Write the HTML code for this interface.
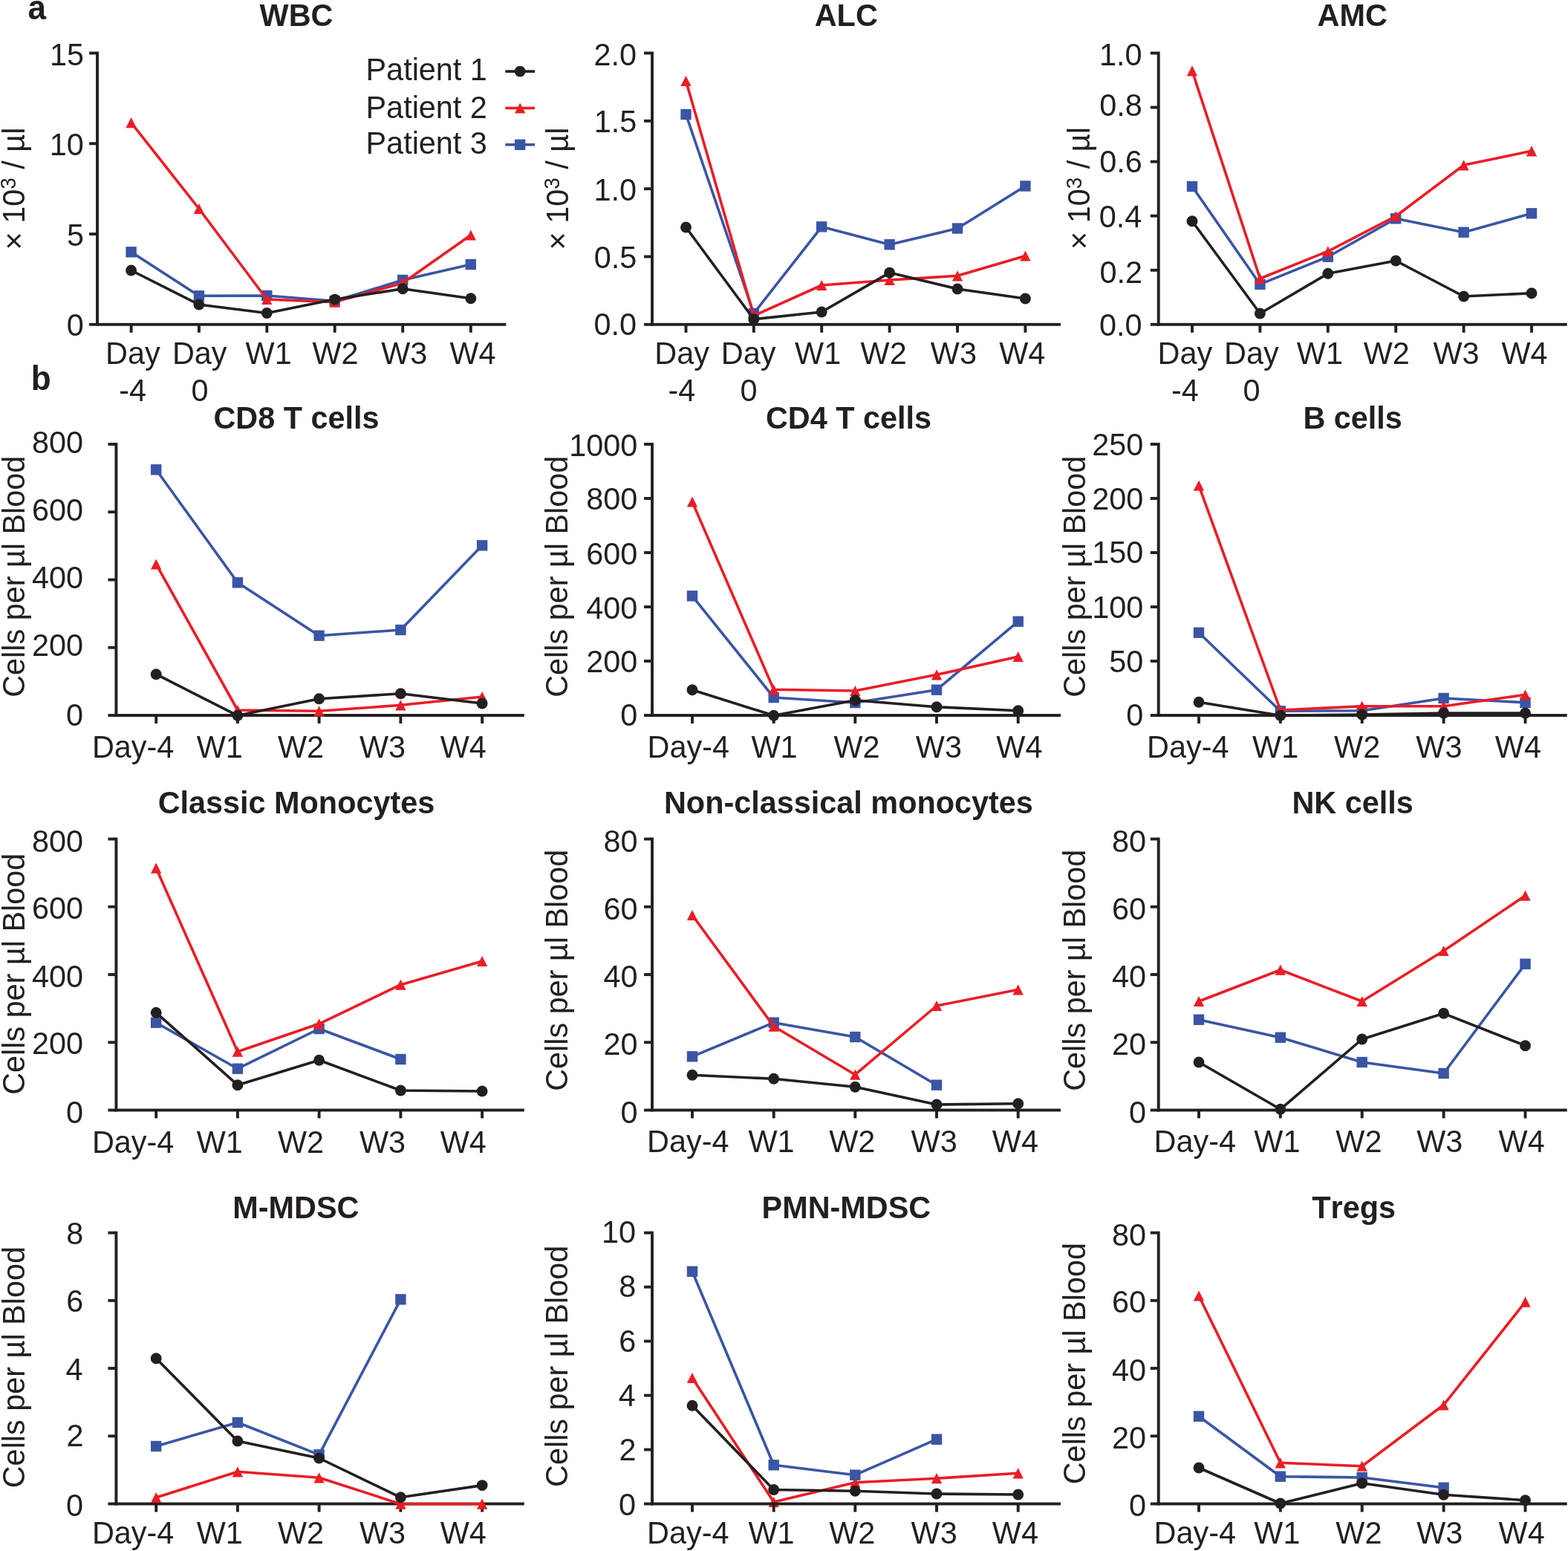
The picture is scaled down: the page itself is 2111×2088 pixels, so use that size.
<!DOCTYPE html>
<html lang="en"><head><meta charset="utf-8"><title>Figure</title>
<style>
html,body{margin:0;padding:0;background:#fff;}
body{width:2111px;height:2088px;overflow:hidden;}
svg{display:block;}
text{font-kerning:none;font-family:"Liberation Sans",Arial,Helvetica,sans-serif;fill:#231f20;white-space:pre;}
</style></head><body>
<svg width="2111" height="2088" viewBox="0 0 2111 2088">
<rect width="2111" height="2088" fill="#fff"/>
<g fill="#231f20">
<rect x="129.05" y="69.55" width="3.9" height="369.20"/>
<rect x="129.05" y="434.85" width="552.25" height="3.9"/>
<rect x="120.05" y="434.85" width="10.00" height="3.9"/>
<rect x="120.05" y="313.08" width="10.00" height="3.9"/>
<rect x="120.05" y="191.32" width="10.00" height="3.9"/>
<rect x="120.05" y="69.55" width="10.00" height="3.9"/>
<rect x="174.65" y="436.80" width="3.9" height="10.95"/>
<rect x="265.95" y="436.80" width="3.9" height="10.95"/>
<rect x="357.35" y="436.80" width="3.9" height="10.95"/>
<rect x="448.75" y="436.80" width="3.9" height="10.95"/>
<rect x="540.25" y="436.80" width="3.9" height="10.95"/>
<rect x="631.85" y="436.80" width="3.9" height="10.95"/>
</g>
<g>
<polyline points="176.60,339.30 267.90,398.30 359.30,398.00 450.70,405.30 542.20,377.00 633.80,356.00" fill="none" stroke="#3a55a5" stroke-width="3.6" stroke-linejoin="round"/>
<rect x="169.40" y="332.10" width="14.4" height="14.4" fill="#3a55a5"/>
<rect x="260.70" y="391.10" width="14.4" height="14.4" fill="#3a55a5"/>
<rect x="352.10" y="390.80" width="14.4" height="14.4" fill="#3a55a5"/>
<rect x="443.50" y="398.10" width="14.4" height="14.4" fill="#3a55a5"/>
<rect x="535.00" y="369.80" width="14.4" height="14.4" fill="#3a55a5"/>
<rect x="626.60" y="348.80" width="14.4" height="14.4" fill="#3a55a5"/>
<polyline points="176.60,165.20 267.90,281.00 359.30,403.00 450.70,406.60 542.20,381.00 633.80,316.50" fill="none" stroke="#ea1d25" stroke-width="3.6" stroke-linejoin="round"/>
<polygon points="176.60,158.10 183.75,172.30 169.45,172.30" fill="#ea1d25"/>
<polygon points="267.90,273.90 275.05,288.10 260.75,288.10" fill="#ea1d25"/>
<polygon points="359.30,395.90 366.45,410.10 352.15,410.10" fill="#ea1d25"/>
<polygon points="450.70,399.50 457.85,413.70 443.55,413.70" fill="#ea1d25"/>
<polygon points="542.20,373.90 549.35,388.10 535.05,388.10" fill="#ea1d25"/>
<polygon points="633.80,309.40 640.95,323.60 626.65,323.60" fill="#ea1d25"/>
<polyline points="176.60,364.00 267.90,410.00 359.30,421.50 450.70,403.10 542.20,388.70 633.80,401.70" fill="none" stroke="#231f20" stroke-width="3.6" stroke-linejoin="round"/>
<circle cx="176.60" cy="364.00" r="7.45" fill="#231f20"/>
<circle cx="267.90" cy="410.00" r="7.45" fill="#231f20"/>
<circle cx="359.30" cy="421.50" r="7.45" fill="#231f20"/>
<circle cx="450.70" cy="403.10" r="7.45" fill="#231f20"/>
<circle cx="542.20" cy="388.70" r="7.45" fill="#231f20"/>
<circle cx="633.80" cy="401.70" r="7.45" fill="#231f20"/>
</g>
<text transform="translate(89.79,451.50) scale(1,1.03)" font-size="41.4">0</text>
<text transform="translate(89.91,330.50) scale(1,1.03)" font-size="41.4">5</text>
<text transform="translate(66.77,209.30) scale(1,1.03)" font-size="41.4">10</text>
<text transform="translate(66.89,87.90) scale(1,1.03)" font-size="41.4">15</text>
<text transform="translate(142.10,490.00) scale(1,1.03)" font-size="41.4">Day</text>
<text transform="translate(160.16,539.50) scale(1,1.03)" font-size="41.4">-4</text>
<text transform="translate(231.90,490.00) scale(1,1.03)" font-size="41.4">Day</text>
<text transform="translate(257.38,539.50) scale(1,1.03)" font-size="41.4">0</text>
<text transform="translate(330.62,490.00) scale(1,1.03)" font-size="41.4">W1</text>
<text transform="translate(420.52,490.00) scale(1,1.03)" font-size="41.4">W2</text>
<text transform="translate(513.22,490.00) scale(1,1.03)" font-size="41.4">W3</text>
<text transform="translate(605.42,490.00) scale(1,1.03)" font-size="41.4">W4</text>
<text transform="translate(349.61,34.70) scale(1,1.03)" font-size="41.4" font-weight="bold">WBC</text>
<text transform="translate(32.90,336.48) rotate(-90) scale(1,1.03)" font-size="41.4">× 10<tspan font-size="28.0" dy="-11.5">3</tspan><tspan dy="11.5"> / µl</tspan></text>
<g fill="#231f20">
<rect x="876.05" y="69.55" width="3.9" height="369.20"/>
<rect x="876.05" y="434.85" width="551.95" height="3.9"/>
<rect x="867.05" y="434.85" width="10.00" height="3.9"/>
<rect x="867.05" y="343.53" width="10.00" height="3.9"/>
<rect x="867.05" y="252.20" width="10.00" height="3.9"/>
<rect x="867.05" y="160.88" width="10.00" height="3.9"/>
<rect x="867.05" y="69.55" width="10.00" height="3.9"/>
<rect x="921.55" y="436.80" width="3.9" height="10.95"/>
<rect x="1012.85" y="436.80" width="3.9" height="10.95"/>
<rect x="1104.25" y="436.80" width="3.9" height="10.95"/>
<rect x="1195.65" y="436.80" width="3.9" height="10.95"/>
<rect x="1287.05" y="436.80" width="3.9" height="10.95"/>
<rect x="1378.45" y="436.80" width="3.9" height="10.95"/>
</g>
<g>
<polyline points="923.50,154.00 1014.80,422.00 1106.20,305.30 1197.60,329.20 1289.00,307.50 1380.40,250.50" fill="none" stroke="#3a55a5" stroke-width="3.6" stroke-linejoin="round"/>
<rect x="916.30" y="146.80" width="14.4" height="14.4" fill="#3a55a5"/>
<rect x="1007.60" y="414.80" width="14.4" height="14.4" fill="#3a55a5"/>
<rect x="1099.00" y="298.10" width="14.4" height="14.4" fill="#3a55a5"/>
<rect x="1190.40" y="322.00" width="14.4" height="14.4" fill="#3a55a5"/>
<rect x="1281.80" y="300.30" width="14.4" height="14.4" fill="#3a55a5"/>
<rect x="1373.20" y="243.30" width="14.4" height="14.4" fill="#3a55a5"/>
<polyline points="923.50,109.00 1014.80,425.00 1106.20,384.00 1197.60,377.00 1289.00,371.30 1380.40,344.50" fill="none" stroke="#ea1d25" stroke-width="3.6" stroke-linejoin="round"/>
<polygon points="923.50,101.90 930.65,116.10 916.35,116.10" fill="#ea1d25"/>
<polygon points="1014.80,417.90 1021.95,432.10 1007.65,432.10" fill="#ea1d25"/>
<polygon points="1106.20,376.90 1113.35,391.10 1099.05,391.10" fill="#ea1d25"/>
<polygon points="1197.60,369.90 1204.75,384.10 1190.45,384.10" fill="#ea1d25"/>
<polygon points="1289.00,364.20 1296.15,378.40 1281.85,378.40" fill="#ea1d25"/>
<polygon points="1380.40,337.40 1387.55,351.60 1373.25,351.60" fill="#ea1d25"/>
<polyline points="923.50,306.00 1014.80,429.80 1106.20,420.00 1197.60,367.10 1289.00,389.00 1380.40,402.00" fill="none" stroke="#231f20" stroke-width="3.6" stroke-linejoin="round"/>
<circle cx="923.50" cy="306.00" r="7.45" fill="#231f20"/>
<circle cx="1014.80" cy="429.80" r="7.45" fill="#231f20"/>
<circle cx="1106.20" cy="420.00" r="7.45" fill="#231f20"/>
<circle cx="1197.60" cy="367.10" r="7.45" fill="#231f20"/>
<circle cx="1289.00" cy="389.00" r="7.45" fill="#231f20"/>
<circle cx="1380.40" cy="402.00" r="7.45" fill="#231f20"/>
</g>
<text transform="translate(799.57,451.20) scale(1,1.03)" font-size="41.4">0.0</text>
<text transform="translate(799.69,360.70) scale(1,1.03)" font-size="41.4">0.5</text>
<text transform="translate(799.57,270.10) scale(1,1.03)" font-size="41.4">1.0</text>
<text transform="translate(799.69,178.40) scale(1,1.03)" font-size="41.4">1.5</text>
<text transform="translate(799.57,88.40) scale(1,1.03)" font-size="41.4">2.0</text>
<text transform="translate(881.30,490.00) scale(1,1.03)" font-size="41.4">Day</text>
<text transform="translate(899.46,539.50) scale(1,1.03)" font-size="41.4">-4</text>
<text transform="translate(970.80,490.00) scale(1,1.03)" font-size="41.4">Day</text>
<text transform="translate(996.38,539.50) scale(1,1.03)" font-size="41.4">0</text>
<text transform="translate(1070.12,490.00) scale(1,1.03)" font-size="41.4">W1</text>
<text transform="translate(1158.62,490.00) scale(1,1.03)" font-size="41.4">W2</text>
<text transform="translate(1252.82,490.00) scale(1,1.03)" font-size="41.4">W3</text>
<text transform="translate(1345.22,490.00) scale(1,1.03)" font-size="41.4">W4</text>
<text transform="translate(1096.71,34.70) scale(1,1.03)" font-size="41.4" font-weight="bold">ALC</text>
<text transform="translate(765.00,336.48) rotate(-90) scale(1,1.03)" font-size="41.4">× 10<tspan font-size="28.0" dy="-11.5">3</tspan><tspan dy="11.5"> / µl</tspan></text>
<g fill="#231f20">
<rect x="1557.75" y="69.55" width="3.9" height="369.20"/>
<rect x="1557.75" y="434.85" width="551.95" height="3.9"/>
<rect x="1548.75" y="434.85" width="10.00" height="3.9"/>
<rect x="1548.75" y="361.79" width="10.00" height="3.9"/>
<rect x="1548.75" y="288.73" width="10.00" height="3.9"/>
<rect x="1548.75" y="215.67" width="10.00" height="3.9"/>
<rect x="1548.75" y="142.61" width="10.00" height="3.9"/>
<rect x="1548.75" y="69.55" width="10.00" height="3.9"/>
<rect x="1603.05" y="436.80" width="3.9" height="10.95"/>
<rect x="1694.45" y="436.80" width="3.9" height="10.95"/>
<rect x="1785.85" y="436.80" width="3.9" height="10.95"/>
<rect x="1877.25" y="436.80" width="3.9" height="10.95"/>
<rect x="1968.65" y="436.80" width="3.9" height="10.95"/>
<rect x="2060.05" y="436.80" width="3.9" height="10.95"/>
</g>
<g>
<polyline points="1605.00,251.00 1696.40,382.70 1787.80,345.70 1879.20,294.30 1970.60,312.70 2062.00,287.30" fill="none" stroke="#3a55a5" stroke-width="3.6" stroke-linejoin="round"/>
<rect x="1597.80" y="243.80" width="14.4" height="14.4" fill="#3a55a5"/>
<rect x="1689.20" y="375.50" width="14.4" height="14.4" fill="#3a55a5"/>
<rect x="1780.60" y="338.50" width="14.4" height="14.4" fill="#3a55a5"/>
<rect x="1872.00" y="287.10" width="14.4" height="14.4" fill="#3a55a5"/>
<rect x="1963.40" y="305.50" width="14.4" height="14.4" fill="#3a55a5"/>
<rect x="2054.80" y="280.10" width="14.4" height="14.4" fill="#3a55a5"/>
<polyline points="1605.00,95.30 1696.40,375.00 1787.80,338.30 1879.20,291.00 1970.60,222.30 2062.00,203.30" fill="none" stroke="#ea1d25" stroke-width="3.6" stroke-linejoin="round"/>
<polygon points="1605.00,88.20 1612.15,102.40 1597.85,102.40" fill="#ea1d25"/>
<polygon points="1696.40,367.90 1703.55,382.10 1689.25,382.10" fill="#ea1d25"/>
<polygon points="1787.80,331.20 1794.95,345.40 1780.65,345.40" fill="#ea1d25"/>
<polygon points="1879.20,283.90 1886.35,298.10 1872.05,298.10" fill="#ea1d25"/>
<polygon points="1970.60,215.20 1977.75,229.40 1963.45,229.40" fill="#ea1d25"/>
<polygon points="2062.00,196.20 2069.15,210.40 2054.85,210.40" fill="#ea1d25"/>
<polyline points="1605.00,297.70 1696.40,422.00 1787.80,368.30 1879.20,351.00 1970.60,399.00 2062.00,394.70" fill="none" stroke="#231f20" stroke-width="3.6" stroke-linejoin="round"/>
<circle cx="1605.00" cy="297.70" r="7.45" fill="#231f20"/>
<circle cx="1696.40" cy="422.00" r="7.45" fill="#231f20"/>
<circle cx="1787.80" cy="368.30" r="7.45" fill="#231f20"/>
<circle cx="1879.20" cy="351.00" r="7.45" fill="#231f20"/>
<circle cx="1970.60" cy="399.00" r="7.45" fill="#231f20"/>
<circle cx="2062.00" cy="394.70" r="7.45" fill="#231f20"/>
</g>
<text transform="translate(1480.07,451.90) scale(1,1.03)" font-size="41.4">0.0</text>
<text transform="translate(1480.53,381.40) scale(1,1.03)" font-size="41.4">0.2</text>
<text transform="translate(1479.66,305.60) scale(1,1.03)" font-size="41.4">0.4</text>
<text transform="translate(1480.27,231.60) scale(1,1.03)" font-size="41.4">0.6</text>
<text transform="translate(1480.25,156.00) scale(1,1.03)" font-size="41.4">0.8</text>
<text transform="translate(1480.07,88.40) scale(1,1.03)" font-size="41.4">1.0</text>
<text transform="translate(1558.60,490.00) scale(1,1.03)" font-size="41.4">Day</text>
<text transform="translate(1576.96,539.50) scale(1,1.03)" font-size="41.4">-4</text>
<text transform="translate(1648.10,490.00) scale(1,1.03)" font-size="41.4">Day</text>
<text transform="translate(1673.58,539.50) scale(1,1.03)" font-size="41.4">0</text>
<text transform="translate(1745.82,490.00) scale(1,1.03)" font-size="41.4">W1</text>
<text transform="translate(1835.72,490.00) scale(1,1.03)" font-size="41.4">W2</text>
<text transform="translate(1929.42,490.00) scale(1,1.03)" font-size="41.4">W3</text>
<text transform="translate(2021.52,490.00) scale(1,1.03)" font-size="41.4">W4</text>
<text transform="translate(1773.61,34.70) scale(1,1.03)" font-size="41.4" font-weight="bold">AMC</text>
<text transform="translate(1467.40,335.98) rotate(-90) scale(1,1.03)" font-size="41.4">× 10<tspan font-size="28.0" dy="-11.5">3</tspan><tspan dy="11.5"> / µl</tspan></text>
<g fill="#231f20">
<rect x="154.45" y="596.05" width="3.9" height="368.90"/>
<rect x="154.45" y="961.05" width="551.35" height="3.9"/>
<rect x="145.45" y="961.05" width="10.00" height="3.9"/>
<rect x="145.45" y="869.80" width="10.00" height="3.9"/>
<rect x="145.45" y="778.55" width="10.00" height="3.9"/>
<rect x="145.45" y="687.30" width="10.00" height="3.9"/>
<rect x="145.45" y="596.05" width="10.00" height="3.9"/>
<rect x="208.25" y="963.00" width="3.9" height="10.95"/>
<rect x="317.95" y="963.00" width="3.9" height="10.95"/>
<rect x="427.65" y="963.00" width="3.9" height="10.95"/>
<rect x="537.45" y="963.00" width="3.9" height="10.95"/>
<rect x="647.15" y="963.00" width="3.9" height="10.95"/>
</g>
<g>
<polyline points="210.20,632.30 319.90,784.30 429.60,855.70 539.40,848.00 649.10,734.30" fill="none" stroke="#3a55a5" stroke-width="3.6" stroke-linejoin="round"/>
<rect x="203.00" y="625.10" width="14.4" height="14.4" fill="#3a55a5"/>
<rect x="312.70" y="777.10" width="14.4" height="14.4" fill="#3a55a5"/>
<rect x="422.40" y="848.50" width="14.4" height="14.4" fill="#3a55a5"/>
<rect x="532.20" y="840.80" width="14.4" height="14.4" fill="#3a55a5"/>
<rect x="641.90" y="727.10" width="14.4" height="14.4" fill="#3a55a5"/>
<polyline points="210.20,759.50 319.90,956.00 429.60,957.30 539.40,949.30 649.10,938.00" fill="none" stroke="#ea1d25" stroke-width="3.6" stroke-linejoin="round"/>
<polygon points="210.20,752.40 217.35,766.60 203.05,766.60" fill="#ea1d25"/>
<polygon points="319.90,948.90 327.05,963.10 312.75,963.10" fill="#ea1d25"/>
<polygon points="429.60,950.20 436.75,964.40 422.45,964.40" fill="#ea1d25"/>
<polygon points="539.40,942.20 546.55,956.40 532.25,956.40" fill="#ea1d25"/>
<polygon points="649.10,930.90 656.25,945.10 641.95,945.10" fill="#ea1d25"/>
<polyline points="210.20,907.70 319.90,963.30 429.60,940.70 539.40,933.70 649.10,947.00" fill="none" stroke="#231f20" stroke-width="3.6" stroke-linejoin="round"/>
<circle cx="210.20" cy="907.70" r="7.45" fill="#231f20"/>
<circle cx="319.90" cy="963.30" r="7.45" fill="#231f20"/>
<circle cx="429.60" cy="940.70" r="7.45" fill="#231f20"/>
<circle cx="539.40" cy="933.70" r="7.45" fill="#231f20"/>
<circle cx="649.10" cy="947.00" r="7.45" fill="#231f20"/>
</g>
<text transform="translate(88.99,976.90) scale(1,1.03)" font-size="41.4">0</text>
<text transform="translate(42.94,882.70) scale(1,1.03)" font-size="41.4">200</text>
<text transform="translate(42.94,792.30) scale(1,1.03)" font-size="41.4">400</text>
<text transform="translate(42.94,700.70) scale(1,1.03)" font-size="41.4">600</text>
<text transform="translate(42.94,609.80) scale(1,1.03)" font-size="41.4">800</text>
<text transform="translate(123.90,1020.00) scale(1,1.03)" font-size="41.4">Day-4</text>
<text transform="translate(264.72,1020.00) scale(1,1.03)" font-size="41.4">W1</text>
<text transform="translate(374.02,1020.00) scale(1,1.03)" font-size="41.4">W2</text>
<text transform="translate(484.02,1020.00) scale(1,1.03)" font-size="41.4">W3</text>
<text transform="translate(592.72,1020.00) scale(1,1.03)" font-size="41.4">W4</text>
<text transform="translate(287.40,576.70) scale(1,1.03)" font-size="41.4" font-weight="bold">CD8 T cells</text>
<text transform="translate(32.60,938.87) rotate(-90) scale(1,1.03)" font-size="41.4">Cells per µl Blood</text>
<g fill="#231f20">
<rect x="876.05" y="596.05" width="3.9" height="368.90"/>
<rect x="876.05" y="961.05" width="551.95" height="3.9"/>
<rect x="867.05" y="961.05" width="10.00" height="3.9"/>
<rect x="867.05" y="888.05" width="10.00" height="3.9"/>
<rect x="867.05" y="815.05" width="10.00" height="3.9"/>
<rect x="867.05" y="742.05" width="10.00" height="3.9"/>
<rect x="867.05" y="669.05" width="10.00" height="3.9"/>
<rect x="867.05" y="596.05" width="10.00" height="3.9"/>
<rect x="930.05" y="963.00" width="3.9" height="10.95"/>
<rect x="1039.75" y="963.00" width="3.9" height="10.95"/>
<rect x="1149.35" y="963.00" width="3.9" height="10.95"/>
<rect x="1259.05" y="963.00" width="3.9" height="10.95"/>
<rect x="1368.75" y="963.00" width="3.9" height="10.95"/>
</g>
<g>
<polyline points="932.00,802.30 1041.70,939.00 1151.30,946.00 1261.00,928.70 1370.70,836.70" fill="none" stroke="#3a55a5" stroke-width="3.6" stroke-linejoin="round"/>
<rect x="924.80" y="795.10" width="14.4" height="14.4" fill="#3a55a5"/>
<rect x="1034.50" y="931.80" width="14.4" height="14.4" fill="#3a55a5"/>
<rect x="1144.10" y="938.80" width="14.4" height="14.4" fill="#3a55a5"/>
<rect x="1253.80" y="921.50" width="14.4" height="14.4" fill="#3a55a5"/>
<rect x="1363.50" y="829.50" width="14.4" height="14.4" fill="#3a55a5"/>
<polyline points="932.00,675.50 1041.70,928.30 1151.30,930.00 1261.00,908.30 1370.70,884.00" fill="none" stroke="#ea1d25" stroke-width="3.6" stroke-linejoin="round"/>
<polygon points="932.00,668.40 939.15,682.60 924.85,682.60" fill="#ea1d25"/>
<polygon points="1041.70,921.20 1048.85,935.40 1034.55,935.40" fill="#ea1d25"/>
<polygon points="1151.30,922.90 1158.45,937.10 1144.15,937.10" fill="#ea1d25"/>
<polygon points="1261.00,901.20 1268.15,915.40 1253.85,915.40" fill="#ea1d25"/>
<polygon points="1370.70,876.90 1377.85,891.10 1363.55,891.10" fill="#ea1d25"/>
<polyline points="932.00,928.70 1041.70,963.30 1151.30,942.70 1261.00,951.70 1370.70,956.70" fill="none" stroke="#231f20" stroke-width="3.6" stroke-linejoin="round"/>
<circle cx="932.00" cy="928.70" r="7.45" fill="#231f20"/>
<circle cx="1041.70" cy="963.30" r="7.45" fill="#231f20"/>
<circle cx="1151.30" cy="942.70" r="7.45" fill="#231f20"/>
<circle cx="1261.00" cy="951.70" r="7.45" fill="#231f20"/>
<circle cx="1370.70" cy="956.70" r="7.45" fill="#231f20"/>
</g>
<text transform="translate(835.29,977.40) scale(1,1.03)" font-size="41.4">0</text>
<text transform="translate(789.24,905.40) scale(1,1.03)" font-size="41.4">200</text>
<text transform="translate(789.24,832.60) scale(1,1.03)" font-size="41.4">400</text>
<text transform="translate(789.24,759.80) scale(1,1.03)" font-size="41.4">600</text>
<text transform="translate(789.24,685.80) scale(1,1.03)" font-size="41.4">800</text>
<text transform="translate(766.22,613.80) scale(1,1.03)" font-size="41.4">1000</text>
<text transform="translate(871.60,1020.00) scale(1,1.03)" font-size="41.4">Day-4</text>
<text transform="translate(1011.52,1020.00) scale(1,1.03)" font-size="41.4">W1</text>
<text transform="translate(1122.52,1020.00) scale(1,1.03)" font-size="41.4">W2</text>
<text transform="translate(1232.82,1020.00) scale(1,1.03)" font-size="41.4">W3</text>
<text transform="translate(1341.32,1020.00) scale(1,1.03)" font-size="41.4">W4</text>
<text transform="translate(1030.90,576.70) scale(1,1.03)" font-size="41.4" font-weight="bold">CD4 T cells</text>
<text transform="translate(764.00,938.87) rotate(-90) scale(1,1.03)" font-size="41.4">Cells per µl Blood</text>
<g fill="#231f20">
<rect x="1557.75" y="596.05" width="3.9" height="368.90"/>
<rect x="1557.75" y="961.05" width="551.95" height="3.9"/>
<rect x="1548.75" y="961.05" width="10.00" height="3.9"/>
<rect x="1548.75" y="888.05" width="10.00" height="3.9"/>
<rect x="1548.75" y="815.05" width="10.00" height="3.9"/>
<rect x="1548.75" y="742.05" width="10.00" height="3.9"/>
<rect x="1548.75" y="669.05" width="10.00" height="3.9"/>
<rect x="1548.75" y="596.05" width="10.00" height="3.9"/>
<rect x="1612.05" y="963.00" width="3.9" height="10.95"/>
<rect x="1721.85" y="963.00" width="3.9" height="10.95"/>
<rect x="1831.75" y="963.00" width="3.9" height="10.95"/>
<rect x="1941.65" y="963.00" width="3.9" height="10.95"/>
<rect x="2051.55" y="963.00" width="3.9" height="10.95"/>
</g>
<g>
<polyline points="1614.00,851.70 1723.80,957.30 1833.70,956.70 1943.60,940.00 2053.50,945.80" fill="none" stroke="#3a55a5" stroke-width="3.6" stroke-linejoin="round"/>
<rect x="1606.80" y="844.50" width="14.4" height="14.4" fill="#3a55a5"/>
<rect x="1716.60" y="950.10" width="14.4" height="14.4" fill="#3a55a5"/>
<rect x="1826.50" y="949.50" width="14.4" height="14.4" fill="#3a55a5"/>
<rect x="1936.40" y="932.80" width="14.4" height="14.4" fill="#3a55a5"/>
<rect x="2046.30" y="938.60" width="14.4" height="14.4" fill="#3a55a5"/>
<polyline points="1614.00,653.70 1723.80,956.00 1833.70,950.70 1943.60,950.70 2053.50,935.30" fill="none" stroke="#ea1d25" stroke-width="3.6" stroke-linejoin="round"/>
<polygon points="1614.00,646.60 1621.15,660.80 1606.85,660.80" fill="#ea1d25"/>
<polygon points="1723.80,948.90 1730.95,963.10 1716.65,963.10" fill="#ea1d25"/>
<polygon points="1833.70,943.60 1840.85,957.80 1826.55,957.80" fill="#ea1d25"/>
<polygon points="1943.60,943.60 1950.75,957.80 1936.45,957.80" fill="#ea1d25"/>
<polygon points="2053.50,928.20 2060.65,942.40 2046.35,942.40" fill="#ea1d25"/>
<polyline points="1614.00,945.30 1723.80,963.30 1833.70,962.00 1943.60,960.00 2053.50,960.00" fill="none" stroke="#231f20" stroke-width="3.6" stroke-linejoin="round"/>
<circle cx="1614.00" cy="945.30" r="7.45" fill="#231f20"/>
<circle cx="1723.80" cy="963.30" r="7.45" fill="#231f20"/>
<circle cx="1833.70" cy="962.00" r="7.45" fill="#231f20"/>
<circle cx="1943.60" cy="960.00" r="7.45" fill="#231f20"/>
<circle cx="2053.50" cy="960.00" r="7.45" fill="#231f20"/>
</g>
<text transform="translate(1516.19,977.40) scale(1,1.03)" font-size="41.4">0</text>
<text transform="translate(1493.17,904.60) scale(1,1.03)" font-size="41.4">50</text>
<text transform="translate(1470.14,831.50) scale(1,1.03)" font-size="41.4">100</text>
<text transform="translate(1470.14,758.40) scale(1,1.03)" font-size="41.4">150</text>
<text transform="translate(1470.14,685.60) scale(1,1.03)" font-size="41.4">200</text>
<text transform="translate(1470.14,613.30) scale(1,1.03)" font-size="41.4">250</text>
<text transform="translate(1544.10,1020.00) scale(1,1.03)" font-size="41.4">Day-4</text>
<text transform="translate(1686.12,1020.00) scale(1,1.03)" font-size="41.4">W1</text>
<text transform="translate(1796.12,1020.00) scale(1,1.03)" font-size="41.4">W2</text>
<text transform="translate(1906.32,1020.00) scale(1,1.03)" font-size="41.4">W3</text>
<text transform="translate(2012.82,1020.00) scale(1,1.03)" font-size="41.4">W4</text>
<text transform="translate(1754.42,576.70) scale(1,1.03)" font-size="41.4" font-weight="bold">B cells</text>
<text transform="translate(1461.40,938.87) rotate(-90) scale(1,1.03)" font-size="41.4">Cells per µl Blood</text>
<g fill="#231f20">
<rect x="154.45" y="1127.55" width="3.9" height="368.90"/>
<rect x="154.45" y="1492.55" width="551.35" height="3.9"/>
<rect x="145.45" y="1492.55" width="10.00" height="3.9"/>
<rect x="145.45" y="1401.30" width="10.00" height="3.9"/>
<rect x="145.45" y="1310.05" width="10.00" height="3.9"/>
<rect x="145.45" y="1218.80" width="10.00" height="3.9"/>
<rect x="145.45" y="1127.55" width="10.00" height="3.9"/>
<rect x="208.25" y="1494.50" width="3.9" height="10.95"/>
<rect x="317.95" y="1494.50" width="3.9" height="10.95"/>
<rect x="427.65" y="1494.50" width="3.9" height="10.95"/>
<rect x="537.45" y="1494.50" width="3.9" height="10.95"/>
<rect x="647.15" y="1494.50" width="3.9" height="10.95"/>
</g>
<g>
<polyline points="210.20,1376.70 319.90,1438.70 429.60,1385.00 539.40,1426.00" fill="none" stroke="#3a55a5" stroke-width="3.6" stroke-linejoin="round"/>
<rect x="203.00" y="1369.50" width="14.4" height="14.4" fill="#3a55a5"/>
<rect x="312.70" y="1431.50" width="14.4" height="14.4" fill="#3a55a5"/>
<rect x="422.40" y="1377.80" width="14.4" height="14.4" fill="#3a55a5"/>
<rect x="532.20" y="1418.80" width="14.4" height="14.4" fill="#3a55a5"/>
<polyline points="210.20,1168.70 319.90,1415.70 429.60,1378.30 539.40,1325.70 649.10,1294.00" fill="none" stroke="#ea1d25" stroke-width="3.6" stroke-linejoin="round"/>
<polygon points="210.20,1161.60 217.35,1175.80 203.05,1175.80" fill="#ea1d25"/>
<polygon points="319.90,1408.60 327.05,1422.80 312.75,1422.80" fill="#ea1d25"/>
<polygon points="429.60,1371.20 436.75,1385.40 422.45,1385.40" fill="#ea1d25"/>
<polygon points="539.40,1318.60 546.55,1332.80 532.25,1332.80" fill="#ea1d25"/>
<polygon points="649.10,1286.90 656.25,1301.10 641.95,1301.10" fill="#ea1d25"/>
<polyline points="210.20,1363.30 319.90,1460.70 429.60,1427.30 539.40,1468.00 649.10,1469.00" fill="none" stroke="#231f20" stroke-width="3.6" stroke-linejoin="round"/>
<circle cx="210.20" cy="1363.30" r="7.45" fill="#231f20"/>
<circle cx="319.90" cy="1460.70" r="7.45" fill="#231f20"/>
<circle cx="429.60" cy="1427.30" r="7.45" fill="#231f20"/>
<circle cx="539.40" cy="1468.00" r="7.45" fill="#231f20"/>
<circle cx="649.10" cy="1469.00" r="7.45" fill="#231f20"/>
</g>
<text transform="translate(88.99,1511.90) scale(1,1.03)" font-size="41.4">0</text>
<text transform="translate(42.94,1419.00) scale(1,1.03)" font-size="41.4">200</text>
<text transform="translate(42.94,1328.60) scale(1,1.03)" font-size="41.4">400</text>
<text transform="translate(42.94,1237.10) scale(1,1.03)" font-size="41.4">600</text>
<text transform="translate(42.94,1146.70) scale(1,1.03)" font-size="41.4">800</text>
<text transform="translate(123.90,1552.20) scale(1,1.03)" font-size="41.4">Day-4</text>
<text transform="translate(264.72,1552.20) scale(1,1.03)" font-size="41.4">W1</text>
<text transform="translate(374.02,1552.20) scale(1,1.03)" font-size="41.4">W2</text>
<text transform="translate(484.02,1552.20) scale(1,1.03)" font-size="41.4">W3</text>
<text transform="translate(592.72,1552.20) scale(1,1.03)" font-size="41.4">W4</text>
<text transform="translate(212.63,1095.00) scale(1,1.03)" font-size="41.4" font-weight="bold">Classic Monocytes</text>
<text transform="translate(32.60,1473.87) rotate(-90) scale(1,1.03)" font-size="41.4">Cells per µl Blood</text>
<g fill="#231f20">
<rect x="876.05" y="1127.55" width="3.9" height="368.90"/>
<rect x="876.05" y="1492.55" width="551.95" height="3.9"/>
<rect x="867.05" y="1492.55" width="10.00" height="3.9"/>
<rect x="867.05" y="1401.30" width="10.00" height="3.9"/>
<rect x="867.05" y="1310.05" width="10.00" height="3.9"/>
<rect x="867.05" y="1218.80" width="10.00" height="3.9"/>
<rect x="867.05" y="1127.55" width="10.00" height="3.9"/>
<rect x="930.05" y="1494.50" width="3.9" height="10.95"/>
<rect x="1039.75" y="1494.50" width="3.9" height="10.95"/>
<rect x="1149.35" y="1494.50" width="3.9" height="10.95"/>
<rect x="1259.05" y="1494.50" width="3.9" height="10.95"/>
<rect x="1368.75" y="1494.50" width="3.9" height="10.95"/>
</g>
<g>
<polyline points="932.00,1422.30 1041.70,1376.70 1151.30,1396.00 1261.00,1460.70" fill="none" stroke="#3a55a5" stroke-width="3.6" stroke-linejoin="round"/>
<rect x="924.80" y="1415.10" width="14.4" height="14.4" fill="#3a55a5"/>
<rect x="1034.50" y="1369.50" width="14.4" height="14.4" fill="#3a55a5"/>
<rect x="1144.10" y="1388.80" width="14.4" height="14.4" fill="#3a55a5"/>
<rect x="1253.80" y="1453.50" width="14.4" height="14.4" fill="#3a55a5"/>
<polyline points="932.00,1232.00 1041.70,1381.70 1151.30,1446.70 1261.00,1354.00 1370.70,1332.30" fill="none" stroke="#ea1d25" stroke-width="3.6" stroke-linejoin="round"/>
<polygon points="932.00,1224.90 939.15,1239.10 924.85,1239.10" fill="#ea1d25"/>
<polygon points="1041.70,1374.60 1048.85,1388.80 1034.55,1388.80" fill="#ea1d25"/>
<polygon points="1151.30,1439.60 1158.45,1453.80 1144.15,1453.80" fill="#ea1d25"/>
<polygon points="1261.00,1346.90 1268.15,1361.10 1253.85,1361.10" fill="#ea1d25"/>
<polygon points="1370.70,1325.20 1377.85,1339.40 1363.55,1339.40" fill="#ea1d25"/>
<polyline points="932.00,1447.30 1041.70,1452.30 1151.30,1463.30 1261.00,1487.00 1370.70,1485.70" fill="none" stroke="#231f20" stroke-width="3.6" stroke-linejoin="round"/>
<circle cx="932.00" cy="1447.30" r="7.45" fill="#231f20"/>
<circle cx="1041.70" cy="1452.30" r="7.45" fill="#231f20"/>
<circle cx="1151.30" cy="1463.30" r="7.45" fill="#231f20"/>
<circle cx="1261.00" cy="1487.00" r="7.45" fill="#231f20"/>
<circle cx="1370.70" cy="1485.70" r="7.45" fill="#231f20"/>
</g>
<text transform="translate(835.59,1511.60) scale(1,1.03)" font-size="41.4">0</text>
<text transform="translate(812.57,1420.30) scale(1,1.03)" font-size="41.4">20</text>
<text transform="translate(812.57,1328.60) scale(1,1.03)" font-size="41.4">40</text>
<text transform="translate(812.57,1238.20) scale(1,1.03)" font-size="41.4">60</text>
<text transform="translate(812.57,1146.60) scale(1,1.03)" font-size="41.4">80</text>
<text transform="translate(871.10,1551.00) scale(1,1.03)" font-size="41.4">Day-4</text>
<text transform="translate(1007.52,1551.00) scale(1,1.03)" font-size="41.4">W1</text>
<text transform="translate(1116.22,1551.00) scale(1,1.03)" font-size="41.4">W2</text>
<text transform="translate(1226.62,1551.00) scale(1,1.03)" font-size="41.4">W3</text>
<text transform="translate(1335.82,1551.00) scale(1,1.03)" font-size="41.4">W4</text>
<text transform="translate(893.97,1095.00) scale(1,1.03)" font-size="41.4" font-weight="bold">Non-classical monocytes</text>
<text transform="translate(764.00,1468.87) rotate(-90) scale(1,1.03)" font-size="41.4">Cells per µl Blood</text>
<g fill="#231f20">
<rect x="1557.75" y="1127.55" width="3.9" height="368.90"/>
<rect x="1557.75" y="1492.55" width="551.95" height="3.9"/>
<rect x="1548.75" y="1492.55" width="10.00" height="3.9"/>
<rect x="1548.75" y="1401.30" width="10.00" height="3.9"/>
<rect x="1548.75" y="1310.05" width="10.00" height="3.9"/>
<rect x="1548.75" y="1218.80" width="10.00" height="3.9"/>
<rect x="1548.75" y="1127.55" width="10.00" height="3.9"/>
<rect x="1612.05" y="1494.50" width="3.9" height="10.95"/>
<rect x="1721.85" y="1494.50" width="3.9" height="10.95"/>
<rect x="1831.75" y="1494.50" width="3.9" height="10.95"/>
<rect x="1941.65" y="1494.50" width="3.9" height="10.95"/>
<rect x="2051.55" y="1494.50" width="3.9" height="10.95"/>
</g>
<g>
<polyline points="1614.00,1372.70 1723.80,1396.70 1833.70,1430.00 1943.60,1445.00 2053.50,1297.70" fill="none" stroke="#3a55a5" stroke-width="3.6" stroke-linejoin="round"/>
<rect x="1606.80" y="1365.50" width="14.4" height="14.4" fill="#3a55a5"/>
<rect x="1716.60" y="1389.50" width="14.4" height="14.4" fill="#3a55a5"/>
<rect x="1826.50" y="1422.80" width="14.4" height="14.4" fill="#3a55a5"/>
<rect x="1936.40" y="1437.80" width="14.4" height="14.4" fill="#3a55a5"/>
<rect x="2046.30" y="1290.50" width="14.4" height="14.4" fill="#3a55a5"/>
<polyline points="1614.00,1348.00 1723.80,1305.70 1833.70,1348.00 1943.60,1280.00 2053.50,1205.70" fill="none" stroke="#ea1d25" stroke-width="3.6" stroke-linejoin="round"/>
<polygon points="1614.00,1340.90 1621.15,1355.10 1606.85,1355.10" fill="#ea1d25"/>
<polygon points="1723.80,1298.60 1730.95,1312.80 1716.65,1312.80" fill="#ea1d25"/>
<polygon points="1833.70,1340.90 1840.85,1355.10 1826.55,1355.10" fill="#ea1d25"/>
<polygon points="1943.60,1272.90 1950.75,1287.10 1936.45,1287.10" fill="#ea1d25"/>
<polygon points="2053.50,1198.60 2060.65,1212.80 2046.35,1212.80" fill="#ea1d25"/>
<polyline points="1614.00,1430.00 1723.80,1493.30 1833.70,1399.00 1943.60,1364.30 2053.50,1407.70" fill="none" stroke="#231f20" stroke-width="3.6" stroke-linejoin="round"/>
<circle cx="1614.00" cy="1430.00" r="7.45" fill="#231f20"/>
<circle cx="1723.80" cy="1493.30" r="7.45" fill="#231f20"/>
<circle cx="1833.70" cy="1399.00" r="7.45" fill="#231f20"/>
<circle cx="1943.60" cy="1364.30" r="7.45" fill="#231f20"/>
<circle cx="2053.50" cy="1407.70" r="7.45" fill="#231f20"/>
</g>
<text transform="translate(1520.09,1511.60) scale(1,1.03)" font-size="41.4">0</text>
<text transform="translate(1497.07,1420.30) scale(1,1.03)" font-size="41.4">20</text>
<text transform="translate(1497.07,1328.60) scale(1,1.03)" font-size="41.4">40</text>
<text transform="translate(1497.07,1238.20) scale(1,1.03)" font-size="41.4">60</text>
<text transform="translate(1497.07,1146.60) scale(1,1.03)" font-size="41.4">80</text>
<text transform="translate(1553.60,1551.00) scale(1,1.03)" font-size="41.4">Day-4</text>
<text transform="translate(1688.32,1551.00) scale(1,1.03)" font-size="41.4">W1</text>
<text transform="translate(1798.32,1551.00) scale(1,1.03)" font-size="41.4">W2</text>
<text transform="translate(1907.22,1551.00) scale(1,1.03)" font-size="41.4">W3</text>
<text transform="translate(2017.62,1551.00) scale(1,1.03)" font-size="41.4">W4</text>
<text transform="translate(1739.48,1095.00) scale(1,1.03)" font-size="41.4" font-weight="bold">NK cells</text>
<text transform="translate(1461.40,1468.87) rotate(-90) scale(1,1.03)" font-size="41.4">Cells per µl Blood</text>
<g fill="#231f20">
<rect x="154.45" y="1657.65" width="3.9" height="368.80"/>
<rect x="154.45" y="2022.55" width="551.35" height="3.9"/>
<rect x="145.45" y="2022.55" width="10.00" height="3.9"/>
<rect x="145.45" y="1931.33" width="10.00" height="3.9"/>
<rect x="145.45" y="1840.10" width="10.00" height="3.9"/>
<rect x="145.45" y="1748.87" width="10.00" height="3.9"/>
<rect x="145.45" y="1657.65" width="10.00" height="3.9"/>
<rect x="208.25" y="2024.50" width="3.9" height="10.95"/>
<rect x="317.95" y="2024.50" width="3.9" height="10.95"/>
<rect x="427.65" y="2024.50" width="3.9" height="10.95"/>
<rect x="537.45" y="2024.50" width="3.9" height="10.95"/>
<rect x="647.15" y="2024.50" width="3.9" height="10.95"/>
</g>
<g>
<polyline points="210.20,1947.00 319.90,1915.00 429.60,1958.30 539.40,1749.30" fill="none" stroke="#3a55a5" stroke-width="3.6" stroke-linejoin="round"/>
<rect x="203.00" y="1939.80" width="14.4" height="14.4" fill="#3a55a5"/>
<rect x="312.70" y="1907.80" width="14.4" height="14.4" fill="#3a55a5"/>
<rect x="422.40" y="1951.10" width="14.4" height="14.4" fill="#3a55a5"/>
<rect x="532.20" y="1742.10" width="14.4" height="14.4" fill="#3a55a5"/>
<polyline points="210.20,2016.00 319.90,1981.30 429.60,1989.30 539.40,2024.70 649.10,2024.70" fill="none" stroke="#ea1d25" stroke-width="3.6" stroke-linejoin="round"/>
<polygon points="210.20,2008.90 217.35,2023.10 203.05,2023.10" fill="#ea1d25"/>
<polygon points="319.90,1974.20 327.05,1988.40 312.75,1988.40" fill="#ea1d25"/>
<polygon points="429.60,1982.20 436.75,1996.40 422.45,1996.40" fill="#ea1d25"/>
<polygon points="539.40,2017.60 546.55,2031.80 532.25,2031.80" fill="#ea1d25"/>
<polygon points="649.10,2017.60 656.25,2031.80 641.95,2031.80" fill="#ea1d25"/>
<polyline points="210.20,1828.70 319.90,1940.00 429.60,1963.00 539.40,2015.80 649.10,1999.60" fill="none" stroke="#231f20" stroke-width="3.6" stroke-linejoin="round"/>
<circle cx="210.20" cy="1828.70" r="7.45" fill="#231f20"/>
<circle cx="319.90" cy="1940.00" r="7.45" fill="#231f20"/>
<circle cx="429.60" cy="1963.00" r="7.45" fill="#231f20"/>
<circle cx="539.40" cy="2015.80" r="7.45" fill="#231f20"/>
<circle cx="649.10" cy="1999.60" r="7.45" fill="#231f20"/>
</g>
<text transform="translate(88.99,2040.70) scale(1,1.03)" font-size="41.4">0</text>
<text transform="translate(89.46,1946.60) scale(1,1.03)" font-size="41.4">2</text>
<text transform="translate(88.59,1857.50) scale(1,1.03)" font-size="41.4">4</text>
<text transform="translate(89.19,1765.80) scale(1,1.03)" font-size="41.4">6</text>
<text transform="translate(89.17,1675.40) scale(1,1.03)" font-size="41.4">8</text>
<text transform="translate(123.90,2077.60) scale(1,1.03)" font-size="41.4">Day-4</text>
<text transform="translate(264.72,2077.60) scale(1,1.03)" font-size="41.4">W1</text>
<text transform="translate(374.02,2077.60) scale(1,1.03)" font-size="41.4">W2</text>
<text transform="translate(484.02,2077.60) scale(1,1.03)" font-size="41.4">W3</text>
<text transform="translate(592.72,2077.60) scale(1,1.03)" font-size="41.4">W4</text>
<text transform="translate(313.30,1640.00) scale(1,1.03)" font-size="41.4" font-weight="bold">M-MDSC</text>
<text transform="translate(32.60,2003.27) rotate(-90) scale(1,1.03)" font-size="41.4">Cells per µl Blood</text>
<g>
<polyline points="932.00,1855.00 1041.70,2022.00 1151.30,1995.70 1261.00,1990.20 1370.70,1983.30" fill="none" stroke="#ea1d25" stroke-width="3.6" stroke-linejoin="round"/>
<polygon points="932.00,1847.90 939.15,1862.10 924.85,1862.10" fill="#ea1d25"/>
<polygon points="1041.70,2014.90 1048.85,2029.10 1034.55,2029.10" fill="#ea1d25"/>
<polygon points="1151.30,1988.60 1158.45,2002.80 1144.15,2002.80" fill="#ea1d25"/>
<polygon points="1261.00,1983.10 1268.15,1997.30 1253.85,1997.30" fill="#ea1d25"/>
<polygon points="1370.70,1976.20 1377.85,1990.40 1363.55,1990.40" fill="#ea1d25"/>
<polyline points="932.00,1711.70 1041.70,1972.30 1151.30,1985.70 1261.00,1937.70" fill="none" stroke="#3a55a5" stroke-width="3.6" stroke-linejoin="round"/>
<rect x="924.80" y="1704.50" width="14.4" height="14.4" fill="#3a55a5"/>
<rect x="1034.50" y="1965.10" width="14.4" height="14.4" fill="#3a55a5"/>
<rect x="1144.10" y="1978.50" width="14.4" height="14.4" fill="#3a55a5"/>
<rect x="1253.80" y="1930.50" width="14.4" height="14.4" fill="#3a55a5"/>
<polyline points="932.00,1892.30 1041.70,2005.50 1151.30,2007.30 1261.00,2011.00 1370.70,2012.00" fill="none" stroke="#231f20" stroke-width="3.6" stroke-linejoin="round"/>
<circle cx="932.00" cy="1892.30" r="7.45" fill="#231f20"/>
<circle cx="1041.70" cy="2005.50" r="7.45" fill="#231f20"/>
<circle cx="1151.30" cy="2007.30" r="7.45" fill="#231f20"/>
<circle cx="1261.00" cy="2011.00" r="7.45" fill="#231f20"/>
<circle cx="1370.70" cy="2012.00" r="7.45" fill="#231f20"/>
</g>
<g fill="#231f20">
<rect x="876.05" y="1657.65" width="3.9" height="368.80"/>
<rect x="876.05" y="2022.55" width="551.95" height="3.9"/>
<rect x="867.05" y="2022.55" width="10.00" height="3.9"/>
<rect x="867.05" y="1949.57" width="10.00" height="3.9"/>
<rect x="867.05" y="1876.59" width="10.00" height="3.9"/>
<rect x="867.05" y="1803.61" width="10.00" height="3.9"/>
<rect x="867.05" y="1730.63" width="10.00" height="3.9"/>
<rect x="867.05" y="1657.65" width="10.00" height="3.9"/>
<rect x="930.05" y="2024.50" width="3.9" height="10.95"/>
<rect x="1039.75" y="2024.50" width="3.9" height="10.95"/>
<rect x="1149.35" y="2024.50" width="3.9" height="10.95"/>
<rect x="1259.05" y="2024.50" width="3.9" height="10.95"/>
<rect x="1368.75" y="2024.50" width="3.9" height="10.95"/>
</g>
<text transform="translate(833.09,2039.50) scale(1,1.03)" font-size="41.4">0</text>
<text transform="translate(833.56,1965.90) scale(1,1.03)" font-size="41.4">2</text>
<text transform="translate(832.69,1893.10) scale(1,1.03)" font-size="41.4">4</text>
<text transform="translate(833.29,1820.30) scale(1,1.03)" font-size="41.4">6</text>
<text transform="translate(833.27,1746.20) scale(1,1.03)" font-size="41.4">8</text>
<text transform="translate(810.07,1672.90) scale(1,1.03)" font-size="41.4">10</text>
<text transform="translate(871.10,2077.60) scale(1,1.03)" font-size="41.4">Day-4</text>
<text transform="translate(1007.52,2077.60) scale(1,1.03)" font-size="41.4">W1</text>
<text transform="translate(1116.22,2077.60) scale(1,1.03)" font-size="41.4">W2</text>
<text transform="translate(1226.62,2077.60) scale(1,1.03)" font-size="41.4">W3</text>
<text transform="translate(1335.82,2077.60) scale(1,1.03)" font-size="41.4">W4</text>
<text transform="translate(1025.54,1640.00) scale(1,1.03)" font-size="41.4" font-weight="bold">PMN-MDSC</text>
<text transform="translate(764.00,2001.97) rotate(-90) scale(1,1.03)" font-size="41.4">Cells per µl Blood</text>
<g fill="#231f20">
<rect x="1557.75" y="1657.65" width="3.9" height="368.80"/>
<rect x="1557.75" y="2022.55" width="551.95" height="3.9"/>
<rect x="1548.75" y="2022.55" width="10.00" height="3.9"/>
<rect x="1548.75" y="1931.33" width="10.00" height="3.9"/>
<rect x="1548.75" y="1840.10" width="10.00" height="3.9"/>
<rect x="1548.75" y="1748.87" width="10.00" height="3.9"/>
<rect x="1548.75" y="1657.65" width="10.00" height="3.9"/>
<rect x="1612.05" y="2024.50" width="3.9" height="10.95"/>
<rect x="1721.85" y="2024.50" width="3.9" height="10.95"/>
<rect x="1831.75" y="2024.50" width="3.9" height="10.95"/>
<rect x="1941.65" y="2024.50" width="3.9" height="10.95"/>
<rect x="2051.55" y="2024.50" width="3.9" height="10.95"/>
</g>
<g>
<polyline points="1614.00,1906.70 1723.80,1987.70 1833.70,1989.00 1943.60,2002.70" fill="none" stroke="#3a55a5" stroke-width="3.6" stroke-linejoin="round"/>
<rect x="1606.80" y="1899.50" width="14.4" height="14.4" fill="#3a55a5"/>
<rect x="1716.60" y="1980.50" width="14.4" height="14.4" fill="#3a55a5"/>
<rect x="1826.50" y="1981.80" width="14.4" height="14.4" fill="#3a55a5"/>
<rect x="1936.40" y="1995.50" width="14.4" height="14.4" fill="#3a55a5"/>
<polyline points="1614.00,1744.50 1723.80,1969.30 1833.70,1973.70 1943.60,1891.30 2053.50,1752.70" fill="none" stroke="#ea1d25" stroke-width="3.6" stroke-linejoin="round"/>
<polygon points="1614.00,1737.40 1621.15,1751.60 1606.85,1751.60" fill="#ea1d25"/>
<polygon points="1723.80,1962.20 1730.95,1976.40 1716.65,1976.40" fill="#ea1d25"/>
<polygon points="1833.70,1966.60 1840.85,1980.80 1826.55,1980.80" fill="#ea1d25"/>
<polygon points="1943.60,1884.20 1950.75,1898.40 1936.45,1898.40" fill="#ea1d25"/>
<polygon points="2053.50,1745.60 2060.65,1759.80 2046.35,1759.80" fill="#ea1d25"/>
<polyline points="1614.00,1976.00 1723.80,2024.00 1833.70,1996.70 1943.60,2012.30 2053.50,2019.70" fill="none" stroke="#231f20" stroke-width="3.6" stroke-linejoin="round"/>
<circle cx="1614.00" cy="1976.00" r="7.45" fill="#231f20"/>
<circle cx="1723.80" cy="2024.00" r="7.45" fill="#231f20"/>
<circle cx="1833.70" cy="1996.70" r="7.45" fill="#231f20"/>
<circle cx="1943.60" cy="2012.30" r="7.45" fill="#231f20"/>
<circle cx="2053.50" cy="2019.70" r="7.45" fill="#231f20"/>
</g>
<text transform="translate(1520.09,2040.70) scale(1,1.03)" font-size="41.4">0</text>
<text transform="translate(1497.07,1949.80) scale(1,1.03)" font-size="41.4">20</text>
<text transform="translate(1497.07,1858.70) scale(1,1.03)" font-size="41.4">40</text>
<text transform="translate(1497.07,1767.10) scale(1,1.03)" font-size="41.4">60</text>
<text transform="translate(1497.07,1676.70) scale(1,1.03)" font-size="41.4">80</text>
<text transform="translate(1553.60,2077.60) scale(1,1.03)" font-size="41.4">Day-4</text>
<text transform="translate(1688.32,2077.60) scale(1,1.03)" font-size="41.4">W1</text>
<text transform="translate(1798.32,2077.60) scale(1,1.03)" font-size="41.4">W2</text>
<text transform="translate(1907.22,2077.60) scale(1,1.03)" font-size="41.4">W3</text>
<text transform="translate(2017.62,2077.60) scale(1,1.03)" font-size="41.4">W4</text>
<text transform="translate(1766.25,1640.00) scale(1,1.03)" font-size="41.4" font-weight="bold">Tregs</text>
<text transform="translate(1461.40,1998.27) rotate(-90) scale(1,1.03)" font-size="41.4">Cells per µl Blood</text>
<text transform="translate(37.61,25.60) scale(1,1.03)" font-size="44.0" font-weight="bold">a</text>
<text transform="translate(41.80,525.30) scale(1,1.03)" font-size="44.0" font-weight="bold">b</text>
<text transform="translate(492.50,108.20) scale(1,1.03)" font-size="41.4">Patient 1</text>
<rect x="680.3" y="94.30" width="39.700000000000045" height="3.6" fill="#231f20"/>
<circle cx="700.15" cy="96.10" r="7.45" fill="#231f20"/>
<text transform="translate(492.50,158.60) scale(1,1.03)" font-size="41.4">Patient 2</text>
<rect x="680.3" y="143.70" width="39.700000000000045" height="3.6" fill="#ea1d25"/>
<polygon points="700.15,138.40 707.30,152.60 693.00,152.60" fill="#ea1d25"/>
<text transform="translate(492.50,207.40) scale(1,1.03)" font-size="41.4">Patient 3</text>
<rect x="680.3" y="193.00" width="39.700000000000045" height="3.6" fill="#3a55a5"/>
<rect x="692.95" y="187.60" width="14.4" height="14.4" fill="#3a55a5"/>
</svg>
</body></html>
